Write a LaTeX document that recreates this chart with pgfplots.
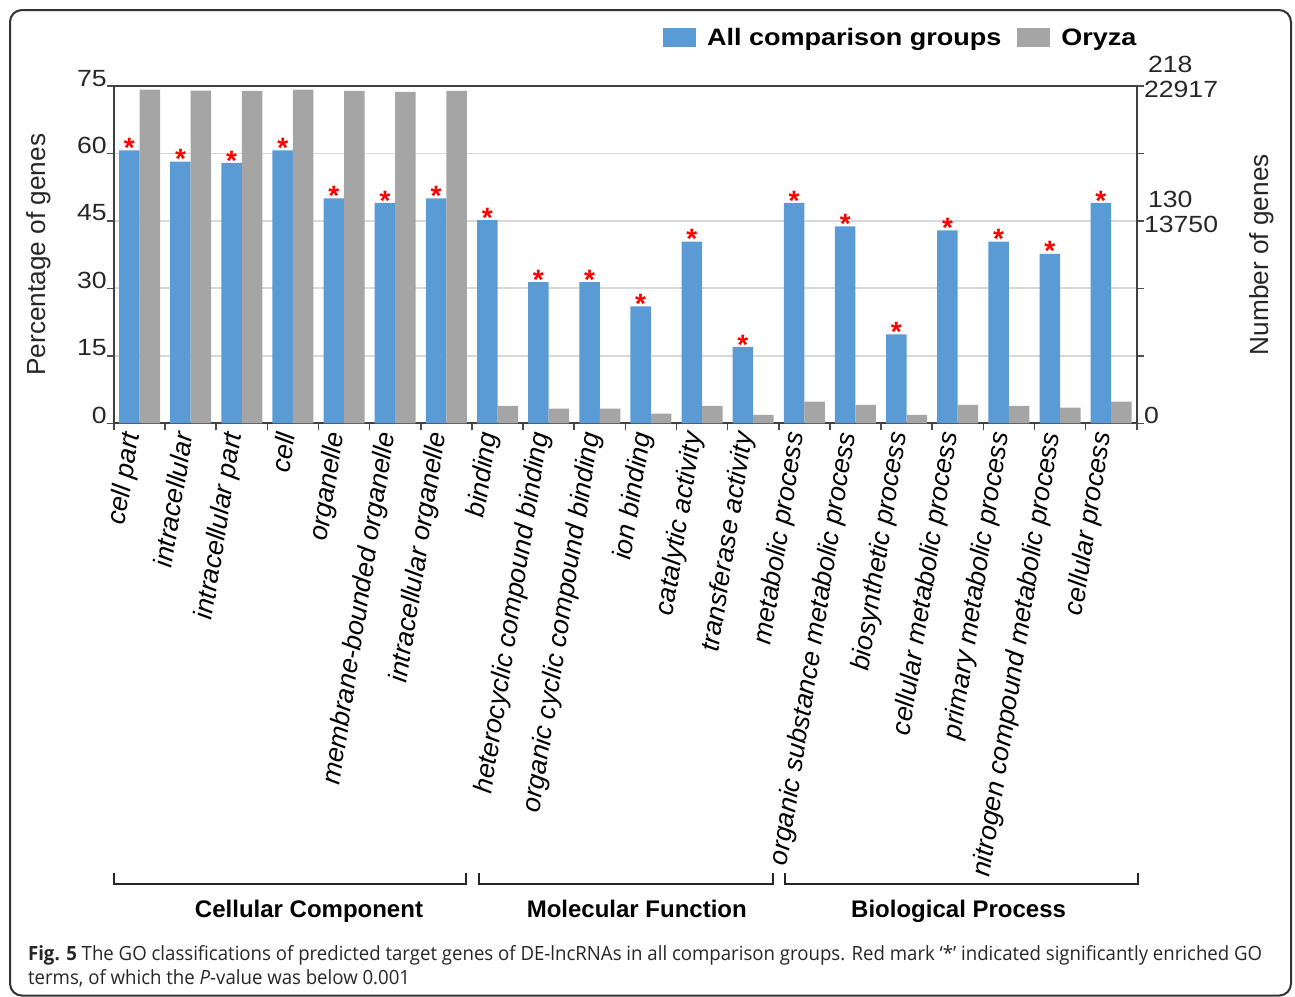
\documentclass[border=0pt]{standalone}
\usepackage{pgfplots}
\pgfplotsset{compat=1.18}
\usepackage{pgfplotstable}
\usepackage{graphicx}
\usepackage{fontspec}
\setmainfont{Liberation Sans}
\newfontfamily\capfont{Open Sans}
\definecolor{cblue}{HTML}{5B9BD5}
\definecolor{cgrey}{HTML}{A5A5A5}
\definecolor{cgrid}{HTML}{D9D9D9}
\definecolor{ctxt}{HTML}{262626}
\newcommand\tickf{\fontsize{13.3}{16}\selectfont}
\newcommand\sq[1]{\scalebox{1}[0.88]{#1}}

\pgfplotstableread{
x blue grey
0 60.7 74.2
1 58.2 74.0
2 57.9 73.9
3 60.7 74.2
4 50.0 73.9
5 49.0 73.7
6 50.0 73.9
7 45.2 3.9
8 31.4 3.25
9 31.4 3.25
10 26.0 2.15
11 40.4 3.85
12 17.0 1.85
13 49.0 4.8
14 43.8 4.1
15 19.8 1.9
16 42.9 4.1
17 40.4 3.85
18 37.7 3.5
19 49.0 4.8
}\godata

\newlength\capw
\newcommand\capone{\textbf{Fig. 5} The GO classifications of predicted target genes of DE-lncRNAs in all comparison groups. Red mark ‘*’ indicated significantly enriched GO}
\newcommand\captwo{terms, of which the \textit{P}-value was below 0.001}
\newcommand\capsz{\capfont\fontsize{9.8}{12}\selectfont}

\begin{document}
\settowidth\capw{\capsz\capone}%
\pgfmathsetmacro\capsx{617pt/\capw}%
\begin{tikzpicture}
\useasboundingbox (0pt,0pt) rectangle (647.5pt,-498pt);
\draw[black!80, line width=1pt, rounded corners=6pt] (5pt,-5pt) rectangle (645.5pt,-497.8pt);
\begin{axis}[
  at={(57pt,-211.65pt)}, anchor=south west,
  scale only axis, width=511.35pt, height=168.65pt,
  xmin=-0.5, xmax=19.5, ymin=0, ymax=75,
  axis line style={black!75, line width=0.9pt},
  tick align=outside,
  xtick pos=bottom, ytick pos=left,
  ytick={0,15,...,75},
  ymajorgrids, major grid style={cgrid, line width=0.9pt},
  major tick length=3.5pt, minor tick length=3.5pt,
  tick style={black!70, line width=0.8pt},
  xtick={0,...,19},
  major x tick style={draw=none},
  minor xtick={-0.5,0.5,...,19.5},
  xticklabels={cell part, intracellular, intracellular part, cell, organelle, membrane-bounded organelle, intracellular organelle, binding, heterocyclic compound binding, organic cyclic compound binding, ion binding, catalytic activity, transferase activity, metabolic process, organic substance metabolic process, biosynthetic process, cellular metabolic process, primary metabolic process, nitrogen compound metabolic process, cellular process},
  xticklabel style={xshift=-3.5pt, yshift=-1pt, rotate=81, anchor=east, inner sep=0pt, font=\tickf\itshape, text=black},
  /pgf/number format/assume math mode=true,
  yticklabel style={anchor=base east, inner sep=0pt, font=\tickf, text=ctxt},
  yticklabel={\sq{\pgfmathprintnumber{\tick}}},
  ylabel={Percentage of genes},
  ylabel style={at={(axis description cs:-0.0733,0.5)}, anchor=center, font=\fontsize{13.1}{15}\selectfont, text=ctxt},
  legend columns=2,
  legend style={draw=none, fill=none, at={(1,1)}, anchor=east, yshift=23.85pt, inner sep=0pt,
    font=\fontsize{13.5}{16}\selectfont\bfseries,
    /tikz/every odd column/.append style={column sep=5.5pt},
    /tikz/every even column/.append style={column sep=8pt},
    nodes={inner sep=0pt}},
]
\addplot[ybar, bar width=10.25pt, bar shift=-5.125pt, fill=cblue, draw=none,
  legend image code/.code={\fill[cblue] (0pt,-4pt) rectangle (16.5pt,5.5pt);},
  nodes near coords={*},
  every node near coord/.append style={anchor=base, xshift=-5.125pt, yshift=-3.6pt, inner sep=0pt, text=red, font=\fontsize{14}{14}\selectfont\bfseries}]
  table[x=x, y=blue]{\godata};
\addlegendentry{\sq{All comparison groups}}
\addplot[ybar, bar width=10.25pt, bar shift=5.125pt, fill=cgrey, draw=none,
  legend image code/.code={\fill[cgrey] (0pt,-4pt) rectangle (16.5pt,5.5pt);}]
  table[x=x, y=grey]{\godata};
\addlegendentry{\sq{Oryza}}
\end{axis}
\begin{axis}[
  at={(57pt,-211.65pt)}, anchor=south west,
  scale only axis, width=511.35pt, height=168.65pt,
  xmin=-0.5, xmax=19.5, ymin=0, ymax=75,
  clip=false,
  axis x line=none, axis y line*=right,
  axis line style={black!75, line width=0.9pt},
  tick align=outside, major tick length=3.5pt,
  tick style={black!70, line width=0.8pt},
  ytick={0,15,30,45,60,75},
  yticklabels={\sq{0},,,\raisebox{-6pt}{\sq{13750}},,\raisebox{-5.6pt}{\sq{22917}}},
  yticklabel style={anchor=base west, inner sep=0pt, font=\tickf, text=ctxt},
  ylabel={Number of genes},
  ylabel style={at={(axis description cs:1.1222,0.5)}, anchor=center, font=\fontsize{13.1}{15}\selectfont, text=ctxt},
]
\addplot[draw=none, forget plot] coordinates {(0,0)};
\node[anchor=base west, inner sep=0pt, font=\tickf, text=ctxt, xshift=5.5pt, yshift=7pt] at (axis cs:19.5,75) {\sq{218}};
\node[anchor=base west, inner sep=0pt, font=\tickf, text=ctxt, xshift=5.5pt, yshift=6.7pt] at (axis cs:19.5,45) {\sq{130}};
\end{axis}
% group brackets
\draw[black!85, line width=1pt] (57pt,-436.5pt) -- (57pt,-442pt) -- (233pt,-442pt) -- (233pt,-436.5pt);
\draw[black!85, line width=1pt] (239.5pt,-436.5pt) -- (239.5pt,-442pt) -- (386.5pt,-442pt) -- (386.5pt,-436.5pt);
\draw[black!85, line width=1pt] (392.5pt,-436.5pt) -- (392.5pt,-442pt) -- (569pt,-442pt) -- (569pt,-436.5pt);
\node[anchor=base, inner sep=0pt, font=\fontsize{12}{14}\selectfont\bfseries] at (154.5pt,-458.7pt) {Cellular Component};
\node[anchor=base, inner sep=0pt, font=\fontsize{12}{14}\selectfont\bfseries] at (318.4pt,-458.7pt) {Molecular Function};
\node[anchor=base, inner sep=0pt, font=\fontsize{12}{14}\selectfont\bfseries] at (479.3pt,-458.7pt) {Biological Process};
% caption
\node[anchor=base west, inner sep=0pt, text=black!85] at (13.85pt,-480pt) {\scalebox{\capsx}[1]{\capsz\capone}};
\node[anchor=base west, inner sep=0pt, text=black!85] at (13.85pt,-492pt) {\scalebox{\capsx}[1]{\capsz\captwo}};
\end{tikzpicture}
\end{document}
